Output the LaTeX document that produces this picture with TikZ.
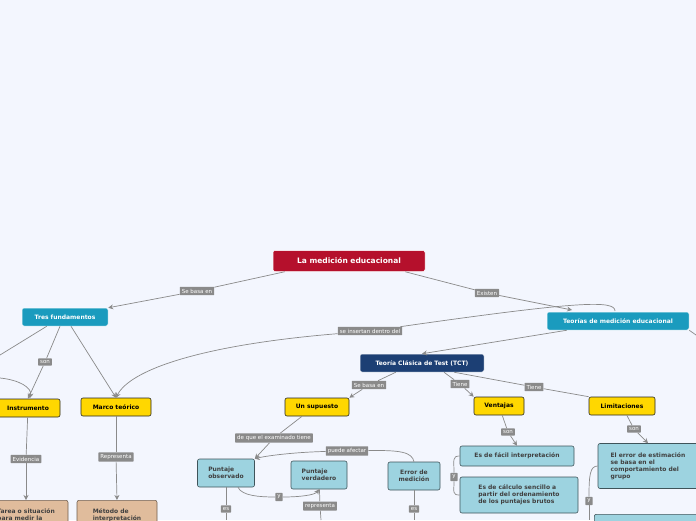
\documentclass[tikz,border=0pt]{standalone}
\usepackage{fontspec}
\setmainfont{DejaVu Sans}
\usepackage{xcolor}
\usetikzlibrary{arrows.meta,positioning}
\definecolor{bgc}{HTML}{F3F6FE}
\definecolor{rootc}{HTML}{B5102C}
\definecolor{tealc}{HTML}{1A9BBE}
\definecolor{navyc}{HTML}{1C3F74}
\definecolor{yelc}{HTML}{FFD700}
\definecolor{lbc}{HTML}{9DD3E0}
\definecolor{tanc}{HTML}{E0BC9C}
\definecolor{labc}{HTML}{8A8A8A}
\definecolor{linec}{HTML}{8A8A8A}

\begin{document}
\begin{tikzpicture}[
    x=1pt, y=-1pt,
    font=\bfseries\fontsize{6}{7}\selectfont,
    topic/.style={
        rectangle,
        rounded corners=2pt,
        draw=white,
        line width=0.5pt,
        text=white,
        align=center,
        minimum height=18pt
    },
    keybox/.style={
        rectangle,
        rounded corners=2pt,
        draw=black!85,
        fill=yelc,
        line width=0.6pt,
        minimum height=18pt
    },
    infobox/.style={
        rectangle,
        rounded corners=2pt,
        draw=black!60!lbc,
        fill=lbc,
        line width=0.6pt,
        text=black!75,
        align=left,
        inner sep=4pt
    },
    tanbox/.style={infobox, draw=black!50!tanc, fill=tanc},
    lab/.style={
        rectangle,
        fill=labc,
        text=white,
        font=\fontsize{5.5}{6.5}\selectfont,
        inner sep=2pt,
        rounded corners=0.5pt
    },
    arrow/.style={-{Stealth[length=5pt,width=5pt]}, line width=0.7pt, linec},
    link/.style={line width=0.7pt, linec}
]
\fill[bgc] (0,0) rectangle (696,520);
\useasboundingbox (0,0) rectangle (696,520);

% ===== nodes =====
\node[topic, fill=rootc, font=\bfseries\fontsize{7.5}{9}\selectfont, minimum width=152pt, minimum height=21pt] (root) at (349,261) {La medición educacional};
\node[topic, fill=tealc, minimum width=86pt] (tres) at (65,317) {Tres fundamentos};
\node[topic, fill=tealc, minimum width=142pt] (teor) at (618,321) {Teorías de medición educacional};
\node[topic, fill=navyc, minimum width=124pt] (tct) at (422,363) {Teoría Clásica de Test (TCT)};

\node[keybox, minimum width=64pt] (instr) at (28,408) {Instrumento};
\node[keybox, minimum width=70pt] (marco) at (116,407) {Marco teórico};
\node[keybox, minimum width=64pt] (sup) at (317,407) {Un supuesto};
\node[keybox, minimum width=50pt] (vent) at (499,406) {Ventajas};
\node[keybox, minimum width=66pt] (limi) at (622,406) {Limitaciones};

\node[infobox, minimum width=57pt, minimum height=28pt] (pobs) at (226,473) {Puntaje\\observado};
\node[infobox, minimum width=56pt, minimum height=28pt] (pver) at (319,475) {Puntaje\\verdadero};
\node[infobox, align=center, minimum width=52pt, minimum height=28pt] (errm) at (414,476) {Error de\\medición};
\node[infobox, minimum width=114pt, minimum height=20pt] (facil) at (517,456) {Es de fácil interpretación};
\node[infobox, minimum width=118pt, minimum height=36pt] (calc) at (519,495) {Es de cálculo sencillo a\\partir del ordenamiento\\de los puntajes brutos};
\node[infobox, minimum width=100pt, minimum height=45pt] (eest) at (648,466) {El error de estimación\\se basa en el\\comportamiento del\\grupo};
\node[infobox, minimum width=104pt, minimum height=16pt, anchor=north west] (lim2) at (594,514) {};
\node[tanbox, minimum width=84pt, minimum height=30pt, anchor=north] (tarea) at (26,500) {Tarea o situación\\para medir la};
\node[tanbox, minimum width=80pt, minimum height=30pt, anchor=north] (metodo) at (117,500) {Método de\\interpretación};

% ===== connector labels =====
\node[lab] (l1) at (197,291) {Se basa en};
\node[lab] (l2) at (487,293) {Existen};
\node[lab] (l3) at (370,331) {se insertan dentro del};
\node[lab] (l4) at (45,362) {son};
\node[lab] (l5) at (26,459) {Evidencia};
\node[lab] (l6) at (116,457) {Representa};
\node[lab] (l7) at (369,385) {Se basa en};
\node[lab] (l8) at (460,384) {Tiene};
\node[lab] (l9) at (534,387) {Tiene};
\node[lab] (l10) at (508,432) {son};
\node[lab] (l11) at (634,429) {son};
\node[lab] (l12) at (274,438) {de que el examinado tiene};
\node[lab] (l13) at (347,451) {puede afectar};
\node[lab] (l14) at (279,497) {y};
\node[lab] (l15) at (320,506) {representa};
\node[lab] (l16) at (226,509) {es};
\node[lab] (l17) at (414,509) {es};
\node[lab] (l18) at (454,477) {y};
\node[lab] (l19) at (589,501) {y};

\coordinate (offL1) at (0,355);
\coordinate (offL2) at (0,378);
\coordinate (offR) at (696,335);
\coordinate (offD1) at (226,520);
\coordinate (offD2) at (321,520);
\coordinate (offD3) at (414,520);

% ===== connectors =====
\draw[link] (root.south west) ++(12,0) -- (l1);
\draw[arrow] (l1) -- (tres.north east);
\draw[link] (root.south east) ++(-20,0) -- (l2);
\draw[arrow] (l2) -- (572,310);
\draw[link] (615,311) .. controls (615,300) and (580,301) .. (l3);
\draw[arrow] (l3) .. controls (200,345) and (130,370) .. (marco.north);
\draw[link] (teor.south east) -- (offR);
\draw[arrow] (teor.south west) ++(20,0) -- (tct.north);
\draw[link] (tres.south west) ++(25,0) -- (offL1);
\draw[link] (tres.south) ++(-5,0) -- (l4);
\draw[arrow] (l4) -- (instr.north);
\draw[arrow] (tres.south) ++(6,0) -- (marco.north);
\draw[arrow] (offL2) .. controls (20,380) and (32,388) .. (30,398);
\draw[link] (instr) -- (l5);
\draw[arrow] (l5) -- (tarea.north);
\draw[link] (marco) -- (l6);
\draw[arrow] (l6) -- (metodo.north);
\draw[link] (tct.south west) ++(36,0) -- (l7);
\draw[arrow] (l7) -- (sup.north east);
\draw[link] (tct.south) ++(22,0) -- (l8);
\draw[arrow] (l8) -- (vent.north west);
\draw[link] (tct.south east) ++(-30,0) -- (l9);
\draw[link] (l9) -- (limi.north west);
\draw[link] (vent) -- (l10);
\draw[arrow] (l10) -- (facil.north);
\draw[link] (limi) -- (l11);
\draw[arrow] (l11) -- (eest.north);
\draw[link] (sup.south) ++(-15,0) -- (l12);
\draw[arrow] (l12) -- (pobs.north east);
\draw[link] (errm.north) .. controls (412,452) and (400,450) .. (l13);
\draw[arrow] (l13) .. controls (300,452) and (270,455) .. (pobs.north east);
\draw[link] (pobs.south) ++(12,0) .. controls (242,496) and (260,497) .. (l14);
\draw[arrow] (l14) .. controls (300,497) and (315,495) .. (pver.south);
\draw[link] (pver) -- (l15);
\draw[link] (l15) -- (offD2);
\draw[link] (pobs) -- (l16);
\draw[link] (l16) -- (offD1);
\draw[link] (errm) -- (l17);
\draw[link] (l17) -- (offD3);
\draw[link] (facil.west) .. controls (452,456) and (454,460) .. (l18);
\draw[link] (l18) .. controls (454,492) and (452,495) .. (calc.west);
\draw[link] (eest.west) .. controls (590,466) and (589,475) .. (l19);
\draw[link] (l19) -- (589,520);
\end{tikzpicture}
\end{document}
